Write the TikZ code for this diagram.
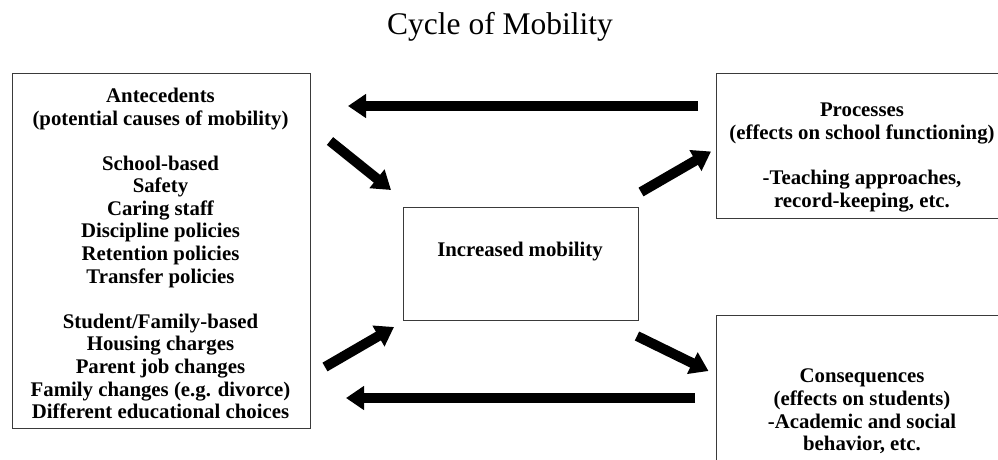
\documentclass[tikz,border=0pt]{standalone}
\usepackage{fontspec}
\setmainfont{Liberation Serif}
\usetikzlibrary{arrows.meta}
\definecolor{ink}{HTML}{000000}
\definecolor{frame}{HTML}{3A3A3A}
\tikzset{
  box/.style={draw=frame, line width=0.9pt, inner sep=0pt},
  txt/.style={text=ink, font=\bfseries\fontsize{20.8}{22.6}\selectfont, align=center, inner sep=0pt},
  ttl/.style={text=ink, font=\fontsize{31.5}{36}\selectfont, inner sep=0pt},
  flow/.style={draw=ink, line width=10pt, -{Triangle[length=18pt,width=23pt]}},
}

\begin{document}
\begin{tikzpicture}[x=1pt,y=-1pt]
  \clip (0,0) rectangle (998,459);
  \fill[white] (0,0) rectangle (998,459);

  \node[ttl,anchor=base] (title) at (500,34) {Cycle of Mobility};

  % boxes
  \node[box,minimum width=298pt,minimum height=355pt] (ante) at (161,250.5) {};
  \node[box,minimum width=235pt,minimum height=113pt] (mob) at (520.5,263.5) {};
  \node[box,minimum width=292pt,minimum height=145pt] (proc) at (862,145.5) {};
  \node[box,minimum width=292pt,minimum height=193pt] (cons) at (862,411.5) {};

  % box texts
  \node[txt] (ante-txt) at (160.5,253.5) {Antecedents\\(potential causes of mobility)\\[22.6pt]
    School-based\\Safety\\Caring staff\\Discipline policies\\Retention policies\\Transfer policies\\[22.6pt]
    Student/Family-based\\Housing charges\\Parent job changes\\Family changes (e.g. divorce)\\Different educational choices};
  \node[txt] (mob-txt) at (520,252) {Increased mobility};
  \node[txt] (proc-txt) at (862,157.5) {Processes\\(effects on school functioning)\\[22.6pt]
    -Teaching approaches,\\record-keeping, etc.};
  \node[txt] (cons-txt) at (862,411.5) {Consequences\\(effects on students)\\-Academic and social\\behavior, etc.};

  % arrow ends
  \coordinate (back-top-a) at (698,106);
  \coordinate (back-top-b) at (348,106);
  \coordinate (back-bot-a) at (695,398);
  \coordinate (back-bot-b) at (346,398);
  \coordinate (in-top-a) at (330,141);
  \coordinate (in-top-b) at (391,190);
  \coordinate (in-bot-a) at (325,367);
  \coordinate (in-bot-b) at (394,327);
  \coordinate (out-top-a) at (641,192);
  \coordinate (out-top-b) at (711,151.5);
  \coordinate (out-bot-a) at (637,336);
  \coordinate (out-bot-b) at (708.5,371);

  \draw[flow] (back-top-a) -- (back-top-b);
  \draw[flow] (back-bot-a) -- (back-bot-b);
  \draw[flow] (in-top-a) -- (in-top-b);
  \draw[flow] (in-bot-a) -- (in-bot-b);
  \draw[flow] (out-top-a) -- (out-top-b);
  \draw[flow] (out-bot-a) -- (out-bot-b);
\end{tikzpicture}
\end{document}
